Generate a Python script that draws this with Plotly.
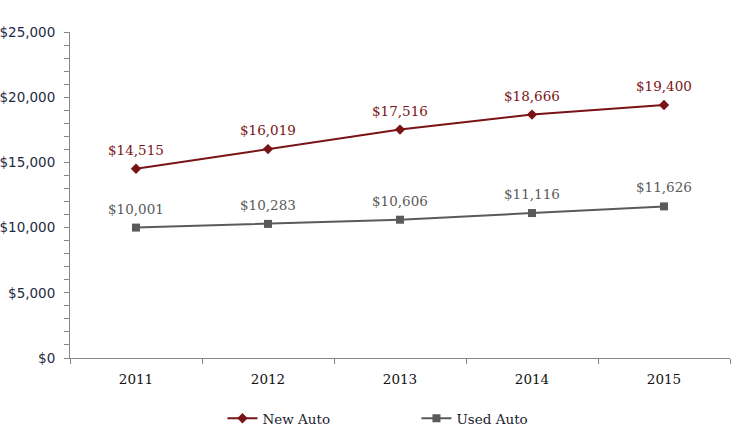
import plotly.graph_objects as go

years = ["2011", "2012", "2013", "2014", "2015"]
new_auto = [14515, 16019, 17516, 18666, 19400]
used_auto = [10001, 10283, 10606, 11116, 11626]
y_ticks = [0, 5000, 10000, 15000, 20000, 25000]
y_tick_labels = ["$0", "$5,000", "$10,000", "$15,000", "$20,000", "$25,000"]

RED = "#7A1315"
GRAY = "#5A5A5A"
SERIF = "DejaVu Serif"

fig = go.Figure()
fig.add_trace(go.Scatter(
    x=years, y=new_auto, name="New Auto", mode="lines+markers",
    line=dict(color=RED, width=2), marker=dict(symbol="diamond", size=8, color=RED),
))
fig.add_trace(go.Scatter(
    x=years, y=used_auto, name="Used Auto", mode="lines+markers",
    line=dict(color=GRAY, width=2), marker=dict(symbol="square", size=8, color=GRAY),
))

for series, color in ((new_auto, RED), (used_auto, GRAY)):
    for i, v in enumerate(series):
        fig.add_annotation(x=i, y=v, xref="x", yref="y", text=f"${v:,}", showarrow=False,
                           yshift=19, font=dict(family=SERIF, size=13.5, color=color))

fig.update_layout(
    width=734, height=444,
    margin=dict(l=70, r=4, t=32, b=86),
    paper_bgcolor="white", plot_bgcolor="white",
    showlegend=True,
    legend=dict(orientation="h", x=0.231, y=-0.138, xanchor="left", yanchor="top",
                font=dict(family=SERIF, size=13.5, color="#1a1a2e"),
                entrywidth=149, entrywidthmode="pixels"),
    xaxis=dict(type="category", tickson="boundaries", ticks="outside", ticklen=5,
               tickcolor="#888888", showline=True, linecolor="#888888", linewidth=1,
               showgrid=False, range=[-0.5, 4.5], automargin=False,
               ticklabelstandoff=9,
               tickfont=dict(family=SERIF, size=13.5, color="#111111")),
    yaxis=dict(range=[0, 25000], tickvals=y_ticks, ticktext=y_tick_labels,
               ticks="outside", ticklen=5, tickcolor="#888888",
               showline=True, linecolor="#888888", linewidth=1, showgrid=False,
               zeroline=False, automargin=False, ticklabelstandoff=6,
               minor=dict(dtick=1000, ticks="outside", ticklen=5, tickcolor="#888888", showgrid=False),
               tickfont=dict(family="DejaVu Sans", size=13.5, color="#1F2A44")),
)

fig.write_html("out.html", config={"displayModeBar": False},
               post_script="document.body.style.margin='0';document.body.style.overflow='hidden';")
